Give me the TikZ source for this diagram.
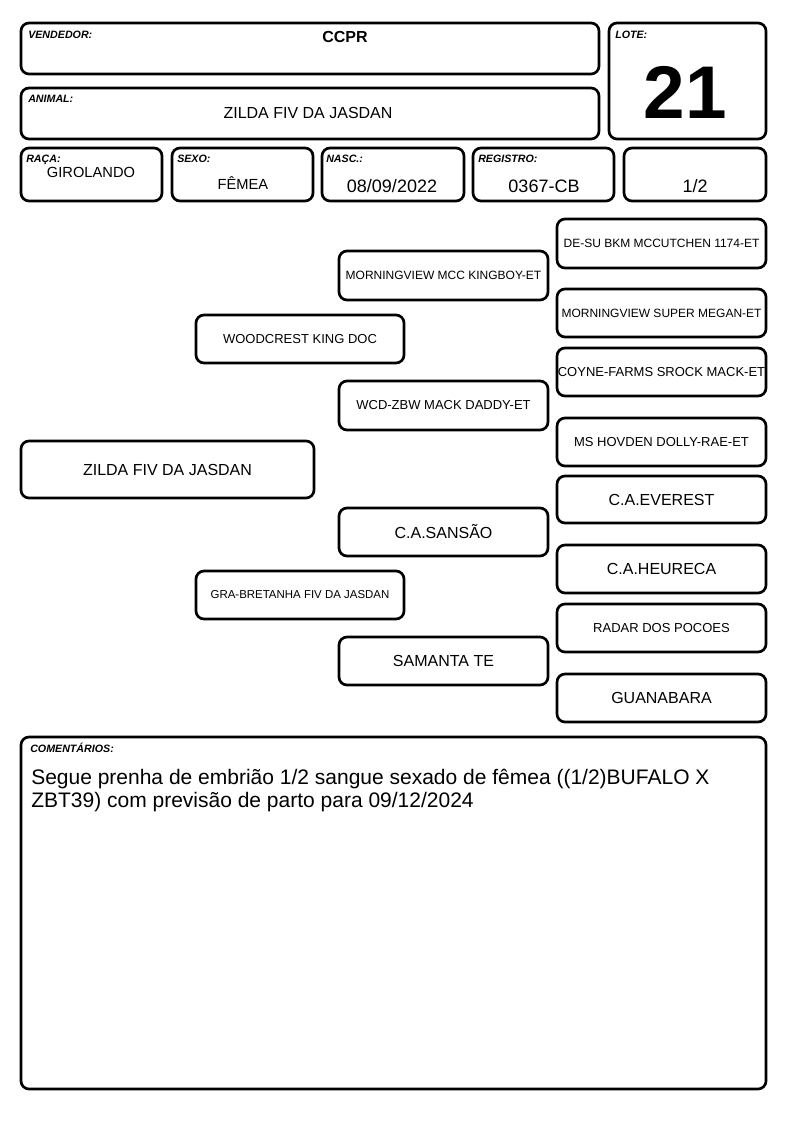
\documentclass[tikz,border=0pt]{standalone}
\usepackage{fontspec}
\setmainfont{Liberation Sans}
\begin{document}
\begin{tikzpicture}[x=0.75pt,y=-0.75pt,
  caixa/.style={line width=2pt,rounded corners=6pt},
  rotulo/.style={anchor=base west,inner sep=0pt,font=\fontsize{8}{9}\selectfont\bfseries\itshape},
  valor/.style={anchor=base,inner sep=0pt,font=\fontsize{11}{13}\selectfont},
  valorg/.style={anchor=base,inner sep=0pt,font=\fontsize{13.5}{16}\selectfont},
  nomep/.style={inner sep=0pt,font=\fontsize{9}{11}\selectfont},
  nomem/.style={inner sep=0pt,font=\fontsize{9.75}{12}\selectfont},
  nomeg/.style={inner sep=0pt,font=\fontsize{12}{14}\selectfont}]
\useasboundingbox (0,0) rectangle (794,1123);
\fill[white] (0,0) rectangle (794,1123);
% cabecalho
\draw[caixa] (21,23) rectangle (599,74);
\node[rotulo] (vendlbl) at (28,39) {VENDEDOR:};
\node[anchor=base,inner sep=0pt,font=\fontsize{12}{14}\selectfont\bfseries] (vendedor) at (345,43) {CCPR};
\draw[caixa] (21,88) rectangle (599,139);
\node[rotulo] (animlbl) at (28,103) {ANIMAL:};
\node[anchor=base,inner sep=0pt,font=\fontsize{12}{14}\selectfont] (animal) at (308,119) {ZILDA FIV DA JASDAN};
\draw[caixa] (609,23) rectangle (766,139);
\node[rotulo] (lotelbl) at (615,39) {LOTE:};
\node[anchor=base,inner sep=0pt,font=\fontsize{56}{60}\selectfont\bfseries] (lote) at (685,119) {21};
% dados
\draw[caixa] (21,148) rectangle (162,201);
\node[rotulo] (racalbl) at (26,163) {RAÇA:};
\node[valor] (raca) at (91,178) {GIROLANDO};
\draw[caixa] (172,148) rectangle (313,201);
\node[rotulo] (sexolbl) at (177,163) {SEXO:};
\node[valor] (sexo) at (243,190) {FÊMEA};
\draw[caixa] (322,148) rectangle (464,201);
\node[rotulo] (nasclbl) at (326,163) {NASC.:};
\node[valorg] (nasc) at (392,193) {08/09/2022};
\draw[caixa] (473,148) rectangle (614,201);
\node[rotulo] (reglbl) at (478,163) {REGISTRO:};
\node[valorg] (registro) at (544,193) {0367-CB};
\draw[caixa] (624,148) rectangle (766,201);
\node[valorg] (sangue) at (695,193) {1/2};
% genealogia
\draw[caixa] (21,441) rectangle (314,498);
\node[nomeg] (animalg) at (167.5,469.5) {ZILDA FIV DA JASDAN};
\draw[caixa] (196,315) rectangle (404,363);
\node[nomem] (pai) at (300,339) {WOODCREST KING DOC};
\draw[caixa] (196,571) rectangle (404,619);
\node[nomep,font=\fontsize{8.6}{10}\selectfont] (mae) at (300,595) {GRA-BRETANHA FIV DA JASDAN};
\draw[caixa] (339,251) rectangle (548,300);
\node[nomep] (avop) at (443.5,275.5) {MORNINGVIEW MCC KINGBOY-ET};
\draw[caixa] (339,381) rectangle (548,430);
\node[nomem] (avap) at (443.5,405.5) {WCD-ZBW MACK DADDY-ET};
\draw[caixa] (339,508) rectangle (548,556);
\node[nomeg] (avom) at (443.5,532) {C.A.SANSÃO};
\draw[caixa] (339,637) rectangle (548,685);
\node[nomeg] (avam) at (443.5,661) {SAMANTA TE};
\draw[caixa] (557,219) rectangle (766,268);
\node[nomep] (bisa) at (661.5,243.5) {DE-SU BKM MCCUTCHEN 1174-ET};
\draw[caixa] (557,289) rectangle (766,337);
\node[nomep] (bisb) at (661.5,313) {MORNINGVIEW SUPER MEGAN-ET};
\draw[caixa] (557,348) rectangle (766,396);
\node[nomem] (bisc) at (661.5,372) {COYNE-FARMS SROCK MACK-ET};
\draw[caixa] (557,418) rectangle (766,466);
\node[nomem] (bisd) at (661.5,442) {MS HOVDEN DOLLY-RAE-ET};
\draw[caixa] (557,476) rectangle (766,523);
\node[nomeg] (bise) at (661.5,499.5) {C.A.EVEREST};
\draw[caixa] (557,545) rectangle (766,593);
\node[nomeg] (bisf) at (661.5,569) {C.A.HEURECA};
\draw[caixa] (557,604) rectangle (766,652);
\node[nomem] (bisg) at (661.5,628) {RADAR DOS POCOES};
\draw[caixa] (557,674) rectangle (766,722);
\node[nomeg] (bish) at (661.5,698) {GUANABARA};
% comentarios
\draw[caixa] (21,737) rectangle (766,1089);
\node[rotulo] (comlbl) at (30,752) {COMENTÁRIOS:};
\node[anchor=base west,inner sep=0pt,align=left,font=\fontsize{15.75}{17.25}\selectfont] (comentario) at (31,807)
  {Segue prenha de embrião 1/2 sangue sexado de fêmea ((1/2)BUFALO X\\ZBT39) com previsão de parto para 09/12/2024};
\end{tikzpicture}
\end{document}
